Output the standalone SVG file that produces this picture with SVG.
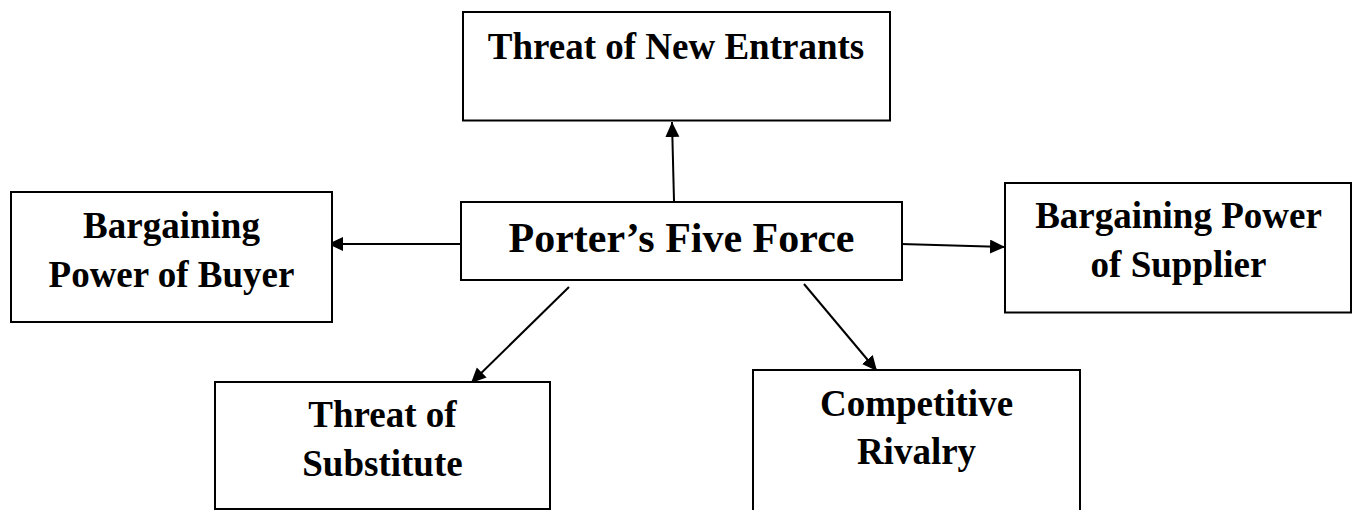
<svg xmlns="http://www.w3.org/2000/svg" width="1353" height="510" viewBox="0 0 1353 510">
<style>
.box{fill:#fff;stroke:#000;stroke-width:2}
.lbl{font-family:"Liberation Serif","Times New Roman",serif;font-weight:bold;font-size:37px;fill:#000;text-anchor:middle}
.big{font-size:42px}
.conn{stroke:#000;stroke-width:2;fill:none;marker-end:url(#arr)}
</style>
<defs>
<marker id="arr" markerUnits="userSpaceOnUse" markerWidth="16" markerHeight="16" refX="15" refY="7" orient="auto">
<path d="M0,0 L15,7 L0,14 z" fill="#000"/>
</marker>
</defs>
<rect width="1353" height="510" fill="#fff"/>
<g id="connectors">
<line class="conn" x1="674" y1="201" x2="672" y2="122"/>
<line class="conn" x1="460" y1="244" x2="328" y2="244"/>
<line class="conn" x1="901" y1="244" x2="1005" y2="247"/>
<line class="conn" x1="569" y1="287" x2="471" y2="383"/>
<line class="conn" x1="804" y1="284" x2="877" y2="371"/>
</g>
<g id="center">
<rect class="box" x="461" y="202" width="441" height="78"/>
<text class="lbl big" x="681.5" y="252">Porter’s Five Force</text>
</g>
<g id="new-entrants">
<rect class="box" x="463" y="12" width="427" height="108.5"/>
<text class="lbl" x="676" y="59">Threat of New Entrants</text>
</g>
<g id="buyer">
<rect class="box" x="11" y="192" width="321" height="130"/>
<text class="lbl" x="171.5" y="238">Bargaining</text>
<text class="lbl" x="171.5" y="287">Power of Buyer</text>
</g>
<g id="supplier">
<rect class="box" x="1005" y="183" width="346" height="129.5"/>
<text class="lbl" x="1178.5" y="228">Bargaining Power</text>
<text class="lbl" x="1178.5" y="277">of Supplier</text>
</g>
<g id="substitute">
<rect class="box" x="215" y="382" width="335" height="127"/>
<text class="lbl" x="382.5" y="427">Threat of</text>
<text class="lbl" x="382.5" y="476">Substitute</text>
</g>
<g id="rivalry">
<rect class="box" x="753" y="370" width="327" height="160"/>
<text class="lbl" x="916.5" y="416">Competitive</text>
<text class="lbl" x="916.5" y="464">Rivalry</text>
</g>
</svg>
